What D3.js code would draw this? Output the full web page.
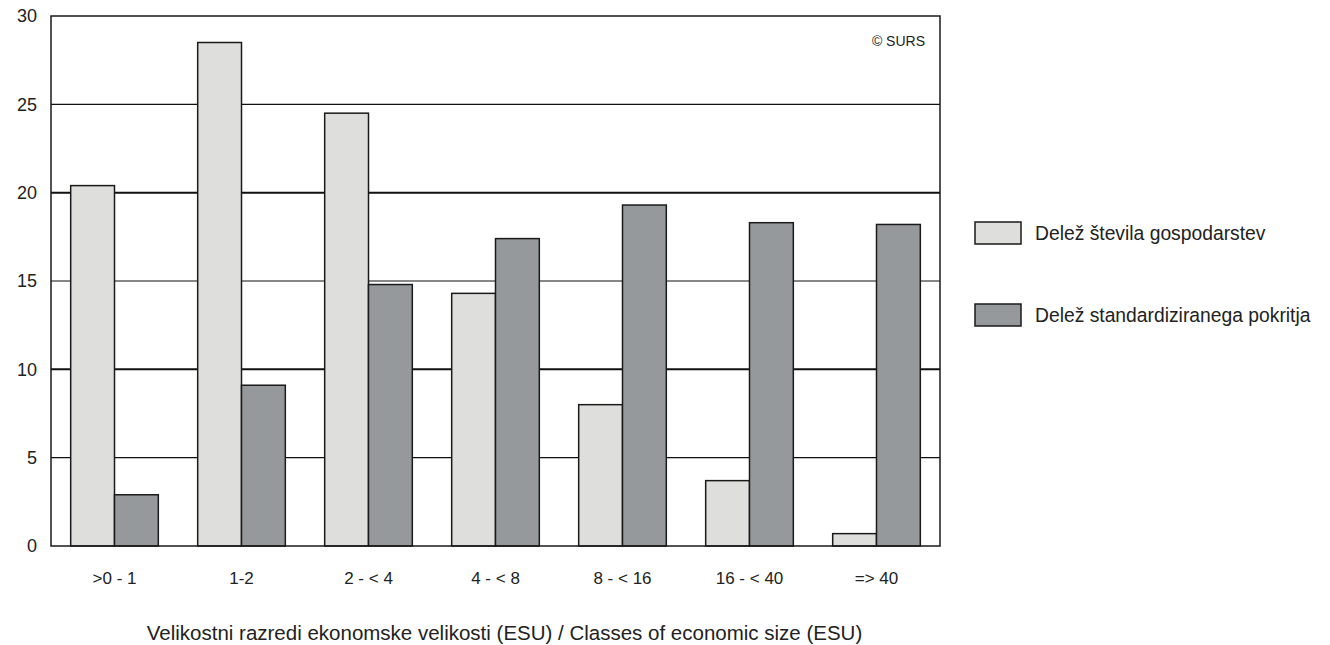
<!DOCTYPE html><html><head><meta charset="utf-8"><script src="https://cdn.jsdelivr.net/npm/d3@7"></script>
<style>body{margin:0;background:#fff}text{font-family:Arial,"Liberation Sans",sans-serif}</style></head><body>
<svg id="c" width="1330" height="645"></svg>
<script>
const categories=[">0 - 1","1-2","2 - < 4","4 - < 8","8 - < 16","16 - < 40","=> 40"];
const farms=[20.4,28.5,24.5,14.3,8.0,3.7,0.7];
const coverage=[2.9,9.1,14.8,17.4,19.3,18.3,18.2];
const yTicks=[0,5,10,15,20,25,30];
const seriesNames=["Delež števila gospodarstev","Delež standardiziranega pokritja"];
const colors=["#dededc","#96999c"];
const svg=d3.select("#c");
const L=51,R=940,T=16,B=546;
const x=d3.scaleBand().domain(categories).range([L,R]).paddingInner(0.31).paddingOuter(0.155);
const y=d3.scaleLinear().domain([0,30]).range([B,T]);
const g=svg.append("g");
yTicks.forEach(t=>{if(t>0&&t<30)g.append("line").attr("x1",L).attr("x2",R).attr("y1",y(t)).attr("y2",y(t)).attr("stroke","#111").attr("stroke-width",t%10===0?2:1.2);});
const bw=x.bandwidth()/2;
[farms,coverage].forEach((arr,i)=>{
 g.selectAll(null).data(arr).enter().append("rect").attr("x",(d,j)=>x(categories[j])+i*bw).attr("y",d=>y(d)).attr("width",bw).attr("height",d=>B-y(d)).attr("fill",colors[i]).attr("stroke","#1a1a1a").attr("stroke-width",1.5);
});
g.append("rect").attr("x",L).attr("y",T).attr("width",R-L).attr("height",B-T).attr("fill","none").attr("stroke","#1a1a1a").attr("stroke-width",1.5);
const ya=svg.append("g").attr("transform",`translate(${L},0)`).call(d3.axisLeft(y).tickValues(yTicks).tickSize(0).tickPadding(14));
ya.select(".domain").remove();ya.selectAll("text").attr("font-size",18).attr("fill","#222").attr("font-family","Arial,'Liberation Sans',sans-serif");
const xa=svg.append("g").attr("transform",`translate(0,${B})`).call(d3.axisBottom(x).tickSize(0).tickPadding(26));
xa.select(".domain").remove();xa.selectAll("text").attr("font-size",17).attr("fill","#222").attr("font-family","Arial,'Liberation Sans',sans-serif");
svg.append("text").attr("x",(L+R)/2+9).attr("y",640).attr("text-anchor","middle").attr("font-size",20.5).attr("fill","#222").text("Velikostni razredi ekonomske velikosti (ESU) / Classes of economic size (ESU)");
svg.append("text").attr("x",925).attr("y",46).attr("text-anchor","end").attr("font-size",14).attr("fill","#222").text("© SURS");
seriesNames.forEach((n,i)=>{const ly=222+i*82;
 svg.append("rect").attr("x",975).attr("y",ly).attr("width",46).attr("height",22).attr("fill",colors[i]).attr("stroke","#1a1a1a").attr("stroke-width",1.5);
 svg.append("text").attr("x",1035).attr("y",ly+18).attr("font-size",19.3).attr("fill","#222").text(n);});
</script></body></html>
